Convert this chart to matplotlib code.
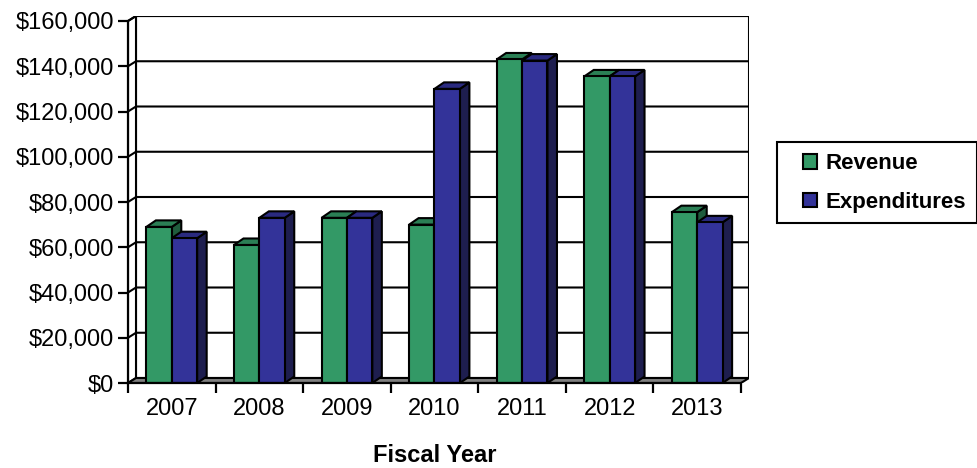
import matplotlib

matplotlib.use("Agg")
import matplotlib.pyplot as plt
from matplotlib.patches import Polygon, Rectangle

plt.rcParams["font.family"] = ["Liberation Sans", "DejaVu Sans"]

years = ["2007", "2008", "2009", "2010", "2011", "2012", "2013"]
revenue = [69000, 61000, 73000, 70000, 143000, 135500, 75500]
expenditures = [64000, 73000, 73000, 130000, 142500, 135500, 71000]
y_ticks = [0, 20000, 40000, 60000, 80000, 100000, 120000, 140000, 160000]
y_labels = ["$0", "$20,000", "$40,000", "$60,000", "$80,000",
            "$100,000", "$120,000", "$140,000", "$160,000"]
series = [("Revenue", revenue), ("Expenditures", expenditures)]

# face colours: front, top, side
colors = {
    "Revenue": ("#339966", "#2b7f55", "#1f5c3d"),
    "Expenditures": ("#333399", "#2a2a80", "#1e1e4f"),
}

W, H = 978, 468
fig = plt.figure(figsize=(W / 100, H / 100), dpi=100)

n = len(years)
ymax = y_ticks[-1]
# pixel geometry of the plot box (front plane + back wall)
px_left, px_front_right, px_back_right = 128, 741, 749
px_bottom, px_front_top = 383, 21
ppu_x = (px_front_right - px_left) / n
ppu_y = (px_bottom - px_front_top) / ymax
wall_dx, wall_dy = 8 / ppu_x, 5 / ppu_y
bar_dx, bar_dy = 9.5 / ppu_x, 6.5 / ppu_y

ax = fig.add_axes([px_left / W, (H - px_bottom) / H,
                   (px_back_right - px_left) / W, (px_bottom - 16) / H])
ax.set_xlim(0, n + wall_dx)
ax.set_ylim(0, ymax + wall_dy)
ax.patch.set_visible(False)

lw = 1.5
edge = dict(edgecolor="black", linewidth=lw, joinstyle="miter")

# back wall, left wall, floor
ax.add_patch(Rectangle((wall_dx, wall_dy), n, ymax, facecolor="white", zorder=1, **edge))
ax.add_patch(Polygon([(0, 0), (wall_dx, wall_dy), (wall_dx, ymax + wall_dy), (0, ymax)],
                     closed=True, facecolor="white", zorder=1, **edge))
ax.add_patch(Polygon([(0, 0), (n, 0), (n + wall_dx, wall_dy), (wall_dx, wall_dy)],
                     closed=True, facecolor="#808080", zorder=2, **edge))
for v in y_ticks[1:]:
    ax.plot([0, wall_dx, n + wall_dx], [v, v + wall_dy, v + wall_dy],
            color="black", linewidth=lw, zorder=1.5)

# 3-D style columns
bw = 0.29
z = 3
for i in range(n):
    c = i + 0.5
    for k, (name, vals) in enumerate(series):
        v = vals[i]
        x0 = c - bw + k * bw
        x1 = x0 + bw
        front, top, side = colors[name]
        ax.add_patch(Polygon([(x1, 0), (x1 + bar_dx, bar_dy), (x1 + bar_dx, v + bar_dy), (x1, v)],
                             closed=True, facecolor=side, zorder=z, **edge))
        ax.add_patch(Polygon([(x0, v), (x1, v), (x1 + bar_dx, v + bar_dy), (x0 + bar_dx, v + bar_dy)],
                             closed=True, facecolor=top, zorder=z, **edge))
        ax.add_patch(Rectangle((x0, 0), bw, v, facecolor=front, zorder=z, **edge))
        z += 1

# axes lines and ticks
for s in ["top", "right"]:
    ax.spines[s].set_visible(False)
ax.spines["left"].set_bounds(0, ymax)
ax.spines["bottom"].set_bounds(0, n)
for s in ["left", "bottom"]:
    ax.spines[s].set_linewidth(1.6)
    ax.spines[s].set_zorder(50)

ax.set_yticks(y_ticks)
ax.set_yticklabels(y_labels)
ax.set_xticks(range(n + 1))
ax.set_xticklabels([])
ax.set_xticks([i + 0.5 for i in range(n)], minor=True)
ax.set_xticklabels(years, minor=True)
ax.tick_params(axis="both", which="major", direction="out", length=7, width=1.6,
               labelsize=17)
ax.tick_params(axis="y", pad=3)
ax.tick_params(axis="x", which="minor", length=0, labelsize=17, pad=11)

ax.set_xlabel("Fiscal Year", fontsize=17, fontweight="bold")
ax.xaxis.set_label_coords((434.5 - px_left) / (px_back_right - px_left), -0.165)

# legend box
fig.patches.append(Rectangle((777 / W, 1 - 223 / H), 200 / W, 81 / H,
                             transform=fig.transFigure, facecolor="white",
                             edgecolor="black", linewidth=lw, zorder=0))
handles = [Rectangle((0, 0), 1, 1, facecolor=colors[name][0], edgecolor="black",
                     linewidth=lw) for name, _ in series]
fig.legend(handles, [name for name, _ in series], loc="center left",
           bbox_to_anchor=(803 / W, 1 - 183 / H), frameon=False,
           prop={"size": 16, "weight": "bold"}, borderpad=0, borderaxespad=0,
           handlelength=0.65, handleheight=0.65, handletextpad=0.35,
           labelspacing=0.8)

fig.savefig("out.png", dpi=100)
